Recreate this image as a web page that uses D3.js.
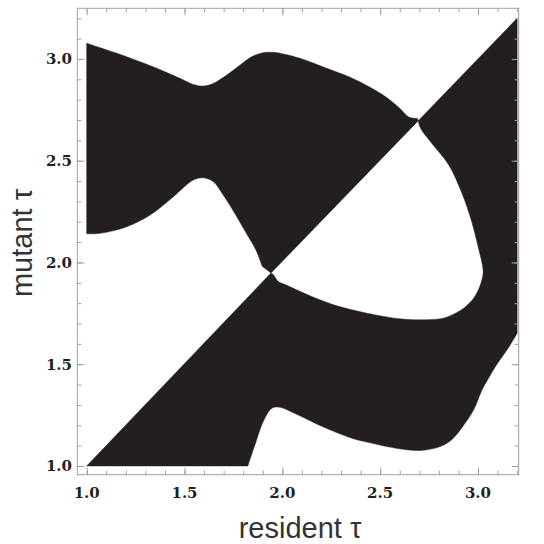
<!DOCTYPE html>
<html>
<head>
<meta charset="utf-8">
<script src="https://cdn.jsdelivr.net/npm/d3@7"></script>
<style>
    body { margin: 0; background: #fff; }
    .tick-label { font-family: "DejaVu Serif", serif; font-weight: bold; font-size: 15px; fill: #231f20; }
    .axis-title { font-family: "Liberation Sans", Arial, sans-serif; font-size: 29px; fill: #333; }
</style>
</head>
<body>
<div class="main-container"></div>
<script>
// boundary curves (resident tau, mutant tau)
const upperTop = [[1.0, 3.077], [1.1, 3.045], [1.204, 3.011], [1.358, 2.954], [1.494, 2.897], [1.554, 2.872],
    [1.596, 2.867], [1.647, 2.88], [1.716, 2.921], [1.784, 2.97], [1.843, 3.011], [1.903, 3.031], [1.945, 3.033],
    [1.988, 3.028], [2.09, 3.003], [2.227, 2.954], [2.346, 2.91], [2.448, 2.861], [2.533, 2.811], [2.601, 2.757],
    [2.649, 2.713], [2.69, 2.708]];
const upperBottom = [[1.0, 2.141], [1.068, 2.143], [1.204, 2.175], [1.324, 2.233], [1.443, 2.323], [1.545, 2.405],
    [1.596, 2.416], [1.647, 2.397], [1.698, 2.331], [1.767, 2.225], [1.816, 2.143], [1.865, 2.061], [1.897, 1.981]];
const pinchLow = [1.942, 1.948];
const pinchHigh = [2.695, 2.697];
const blobBottom = [[1.955, 1.939], [1.979, 1.906], [2.02, 1.889], [2.127, 1.842], [2.261, 1.792], [2.431, 1.751],
    [2.601, 1.723], [2.704, 1.718], [2.823, 1.726], [2.88, 1.748], [2.93, 1.778], [2.976, 1.822], [3.008, 1.88],
    [3.026, 1.945]];
const blobRight = [[3.023, 1.985], [3.0, 2.08], [2.968, 2.2], [2.918, 2.34], [2.85, 2.48], [2.76, 2.59],
    [2.71, 2.653], [2.697, 2.684]];
const lowerEdge = [[3.2, 1.652], [3.159, 1.586], [3.095, 1.497], [3.044, 1.415], [3.02, 1.373], [2.98, 1.28],
    [2.921, 1.193], [2.864, 1.128], [2.806, 1.095], [2.704, 1.076], [2.601, 1.084], [2.42, 1.12], [2.356, 1.136],
    [2.225, 1.185], [2.061, 1.259], [1.988, 1.288], [1.947, 1.284], [1.906, 1.226], [1.857, 1.095], [1.824, 1.0]];
const tauMin = 1.0;
const tauMax = 3.2;
const majorTicks = [1.0, 1.5, 2.0, 2.5, 3.0];
const minorTicks = d3.range(10, 33).map(d => d / 10);

const width = 544;
const height = 544;

const x = d3.scaleLinear().domain([0.952, 3.208]).range([77.3, 518.7]);
const y = d3.scaleLinear().domain([0.957, 3.249]).range([474.7, 8.3]);

const svg = d3.select(".main-container")
    .append("svg")
    .attr("width", width)
    .attr("height", height);

const smooth = d3.line()
    .x(d => x(d[0]))
    .y(d => y(d[1]))
    .curve(d3.curveCatmullRom.alpha(0.5));
const straight = d3.line()
    .x(d => x(d[0]))
    .y(d => y(d[1]));

// join boundary pieces into one closed outline
const outline = (pieces) => pieces
    .map((p, i) => {
        const s = (p[1] ? smooth : straight)(p[0]);
        return i ? "L" + s.slice(1) : s;
    })
    .join("") + "Z";

// region above the diagonal on the left
var regionA = outline([
    [upperTop, true],
    [[upperTop[upperTop.length - 1], pinchHigh, pinchLow], false],
    [upperBottom.slice().reverse(), true]
]);
// big region below the diagonal, wrapping the white loop
var regionB = outline([
    [[[tauMin, tauMin], pinchLow], false],
    [[pinchLow].concat(blobBottom, blobRight, [pinchHigh]), true],
    [[pinchHigh, [tauMax, tauMax], lowerEdge[0]], false],
    [lowerEdge, true],
    [[lowerEdge[lowerEdge.length - 1], [tauMin, tauMin]], false]
]);

svg.selectAll("path.region")
    .data([regionA, regionB])
    .enter()
    .append("path")
    .attr("class", "region")
    .attr("d", d => d)
    .style("fill", "#231f20")
    .style("stroke", "#231f20")
    .style("stroke-width", 0.5);

// frame ticks, pointing inward
const tickColor = "#a0a0a0";
const axes = [
    [d3.axisBottom(x), "translate(0," + y.range()[0] + ")"],
    [d3.axisTop(x), "translate(0," + y.range()[1] + ")"],
    [d3.axisLeft(y), "translate(" + x.range()[0] + ",0)"],
    [d3.axisRight(y), "translate(" + x.range()[1] + ",0)"]
];
axes.forEach(a => {
    [[minorTicks, 4], [majorTicks, 7]].forEach(t => {
        const g = svg.append("g")
            .attr("transform", a[1])
            .call(a[0].tickValues(t[0]).tickSize(-t[1]).tickFormat(""));
        g.select(".domain").remove();
        g.selectAll("line").style("stroke", tickColor).style("stroke-width", 1);
    });
});

svg.append("rect")
    .attr("x", x.range()[0])
    .attr("y", y.range()[1])
    .attr("width", x.range()[1] - x.range()[0])
    .attr("height", y.range()[0] - y.range()[1])
    .style("fill", "none")
    .style("stroke", tickColor)
    .style("stroke-width", 1);

svg.selectAll("text.xlab")
    .data(majorTicks)
    .enter()
    .append("text")
    .attr("class", "tick-label")
    .attr("x", d => x(d))
    .attr("y", 498)
    .attr("text-anchor", "middle")
    .text(d3.format(".1f"));

svg.selectAll("text.ylab")
    .data(majorTicks)
    .enter()
    .append("text")
    .attr("class", "tick-label")
    .attr("x", 72)
    .attr("y", d => y(d))
    .attr("dy", "0.36em")
    .attr("text-anchor", "end")
    .text(d3.format(".1f"));

svg.append("text")
    .attr("class", "axis-title")
    .attr("x", 300)
    .attr("y", 538)
    .attr("text-anchor", "middle")
    .text("resident τ");

svg.append("text")
    .attr("class", "axis-title")
    .attr("transform", "translate(32,243) rotate(-90)")
    .attr("text-anchor", "middle")
    .text("mutant τ");
</script>
</body>
</html>
